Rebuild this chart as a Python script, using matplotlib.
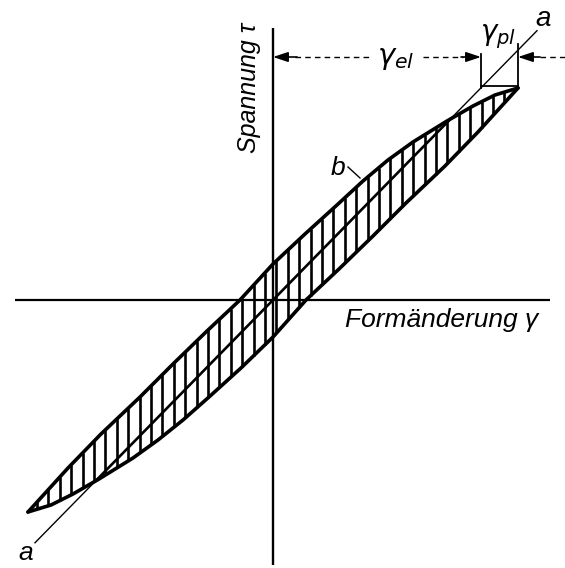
import matplotlib
matplotlib.use("Agg")
import matplotlib.pyplot as plt
import numpy as np

# Hysteresis loop of shear stress tau over shear strain gamma (arbitrary units)
# Loading branch b: from the lower-left reversal point up to the upper-right one
gamma_up = [-245, -225, -205, -172, -133, -100, -66, -33, 0,
            32, 64, 90, 115, 140, 174, 200, 222, 245]
tau_up = [-212, -190, -168, -134, -97, -64, -31, 0, 36,
          66, 95, 119, 140, 158, 179, 194, 205, 212]

# Unloading branch: from the upper-right reversal point back down
gamma_down = [245, 225, 205, 172, 133, 100, 66, 33, 0,
              -32, -64, -90, -115, -140, -174, -200, -222, -245]
tau_down = [212, 190, 168, 134, 97, 64, 31, 0, -37,
            -68, -97, -120, -140, -158, -179, -194, -205, -212]

# Elastic line a-a and strain split at the reversal point
elastic_slope = 1.02
gamma_el = 208
gamma_max = 245
tau_max = 212

fig = plt.figure(figsize=(5.65, 5.68), dpi=100)
ax = fig.add_axes([0, 0, 1, 1])
ax.set_xlim(-273, 292)
ax.set_ylim(-268, 300)
ax.axis("off")

tkw = dict(family=["Liberation Sans", "DejaVu Sans"], style="italic", color="black")

# Coordinate axes
ax.plot([-258, 277], [0, 0], color="black", lw=1.6, solid_capstyle="butt")
ax.plot([0, 0], [-265, 272], color="black", lw=1.7, solid_capstyle="butt")

# Vertical hatching between the two branches
gu = np.array(gamma_up, float); tu = np.array(tau_up, float)
gd = np.array(gamma_down, float)[::-1]; td = np.array(tau_down, float)[::-1]
for g in np.arange(-236, 243, 11.4):
    y1 = np.interp(g, gd, td)
    y2 = np.interp(g, gu, tu)
    ax.plot([g, g], [y1, y2], color="black", lw=1.9, solid_capstyle="butt")

# Loop outline
ax.plot(gamma_up, tau_up, color="black", lw=2.6, solid_joinstyle="round", solid_capstyle="round")
ax.plot(gamma_down, tau_down, color="black", lw=2.6, solid_joinstyle="round", solid_capstyle="round")

# Elastic line a-a: heavy inside the loop, thin outside
ga = np.linspace(-238, 264, 600)
ta = elastic_slope * ga
inside = (ta <= np.interp(ga, gu, tu)) & (ta >= np.interp(ga, gd, td))
ax.plot(np.where(inside, ga, np.nan), np.where(inside, ta, np.nan), color="black", lw=1.9)
ax.plot(np.where(~inside, ga, np.nan), np.where(~inside, ta, np.nan), color="black", lw=1.0)

# Dimension lines for the elastic and plastic strain parts
y_dim = 243
ax.plot([gamma_el, gamma_el], [tau_max, y_dim + 3], color="black", lw=1.3)
ax.plot([gamma_max, gamma_max], [tau_max, y_dim + 13], color="black", lw=1.3)
ax.plot([gamma_el, gamma_max], [tau_max + 2, tau_max + 2], color="black", lw=1.3)
dash = (0, (4, 3))
ax.plot([22, 97], [y_dim, y_dim], color="black", lw=1.0, ls=dash)
ax.plot([150, gamma_el - 18], [y_dim, y_dim], color="black", lw=1.0, ls=dash)
ax.plot([gamma_max + 22, 292], [y_dim, y_dim], color="black", lw=1.0, ls=dash)
ap = dict(arrowstyle="-|>,head_length=0.9,head_width=0.3", color="black", lw=1.2,
          shrinkA=0, shrinkB=0)
ax.annotate("", xy=(0, y_dim), xytext=(24, y_dim), arrowprops=ap)
ax.annotate("", xy=(gamma_el, y_dim), xytext=(gamma_el - 20, y_dim), arrowprops=ap)
ax.annotate("", xy=(gamma_max, y_dim), xytext=(gamma_max + 22, y_dim), arrowprops=ap)

# Labels
ax.text(123, y_dim - 1, r"$\gamma_{el}$", fontsize=21, ha="center", va="center",
        math_fontfamily="dejavusans", color="black")
ax.text(225, 263, r"$\gamma_{pl}$", fontsize=20, ha="center", va="center",
        math_fontfamily="dejavusans", color="black")
ax.text(72, -8, "Formänderung γ", fontsize=19, ha="left", va="top", **tkw)
ax.text(-24, 212, "Spannung τ", fontsize=18, ha="center", va="center", rotation=90, **tkw)
ax.text(65, 132, "b", fontsize=19, ha="center", va="center", **tkw)
ax.plot([75, 87], [133, 122], color="black", lw=1.0)
ax.text(270, 281, "a", fontsize=20, ha="center", va="center", **tkw)
ax.text(-247, -253, "a", fontsize=19, ha="center", va="center", **tkw)

fig.savefig("out.png", dpi=100, facecolor="white")
